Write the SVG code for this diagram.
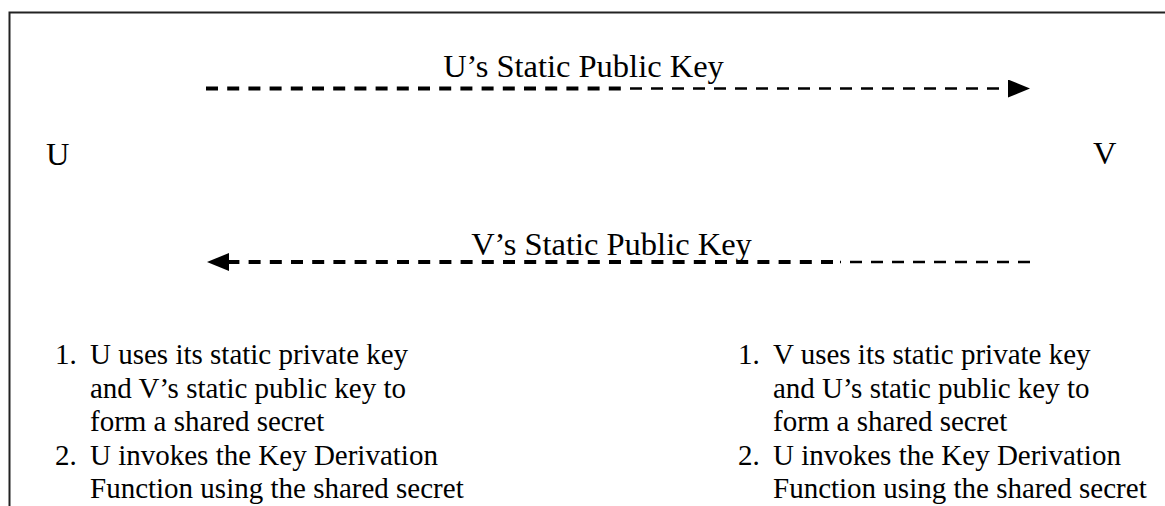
<svg xmlns="http://www.w3.org/2000/svg" width="1165" height="506" viewBox="0 0 1165 506">
  <style>
    .lbl { font-family: "Liberation Serif", "Times New Roman", serif; fill: #000; }
    .big { font-size: 32.5px; }
    .item { font-size: 29px; }
    .thick { stroke: #000; stroke-width: 4; stroke-dasharray: 12 9.2; fill: none; }
    .thin { stroke: #000; stroke-width: 2.6; stroke-dasharray: 12 9; fill: none; }
    .frame { stroke: #222; stroke-width: 2; fill: none; }
  </style>
  <defs>
    <marker id="head" viewBox="0 0 22 18" refX="0" refY="9" markerWidth="22" markerHeight="18" markerUnits="userSpaceOnUse" orient="auto">
      <path d="M0,0 L22,9 L0,18 z" fill="#000"/>
    </marker>
  </defs>
  <rect width="1165" height="506" fill="#fff"/>
  <path class="frame" d="M9.5,506 V12.5 H1165"/>

  <g id="node-U">
    <text class="lbl big" x="46" y="165">U</text>
  </g>
  <g id="node-V">
    <text class="lbl big" x="1093" y="164">V</text>
  </g>

  <g id="connectors">
    <g id="edge-U-V">
      <path class="thick" d="M206,88.5 H622"/>
      <path class="thin" d="M630,88.5 H1008" marker-end="url(#head)"/>
      <text class="lbl big" x="583.5" y="77" text-anchor="middle">U’s Static Public Key</text>
    </g>
    <g id="edge-V-U">
      <path class="thin" d="M1030,262 H840"/>
      <path class="thick" d="M833,262 H229" marker-end="url(#head)"/>
      <text class="lbl big" x="611.5" y="255" text-anchor="middle">V’s Static Public Key</text>
    </g>
  </g>

  <g id="node-U-steps">
    <text class="lbl item" x="55" y="364">1.</text>
    <text class="lbl item" x="90" y="364">U uses its static private key</text>
    <text class="lbl item" x="90" y="397.6">and V’s static public key to</text>
    <text class="lbl item" x="90" y="431.2">form a shared secret</text>
    <text class="lbl item" x="55" y="464.8">2.</text>
    <text class="lbl item" x="90" y="464.8">U invokes the Key Derivation</text>
    <text class="lbl item" x="90" y="498.4">Function using the shared secret</text>
  </g>
  <g id="node-V-steps">
    <text class="lbl item" x="738" y="364">1.</text>
    <text class="lbl item" x="773" y="364">V uses its static private key</text>
    <text class="lbl item" x="773" y="397.6">and U’s static public key to</text>
    <text class="lbl item" x="773" y="431.2">form a shared secret</text>
    <text class="lbl item" x="738" y="464.8">2.</text>
    <text class="lbl item" x="773" y="464.8">U invokes the Key Derivation</text>
    <text class="lbl item" x="773" y="498.4">Function using the shared secret</text>
  </g>
</svg>
